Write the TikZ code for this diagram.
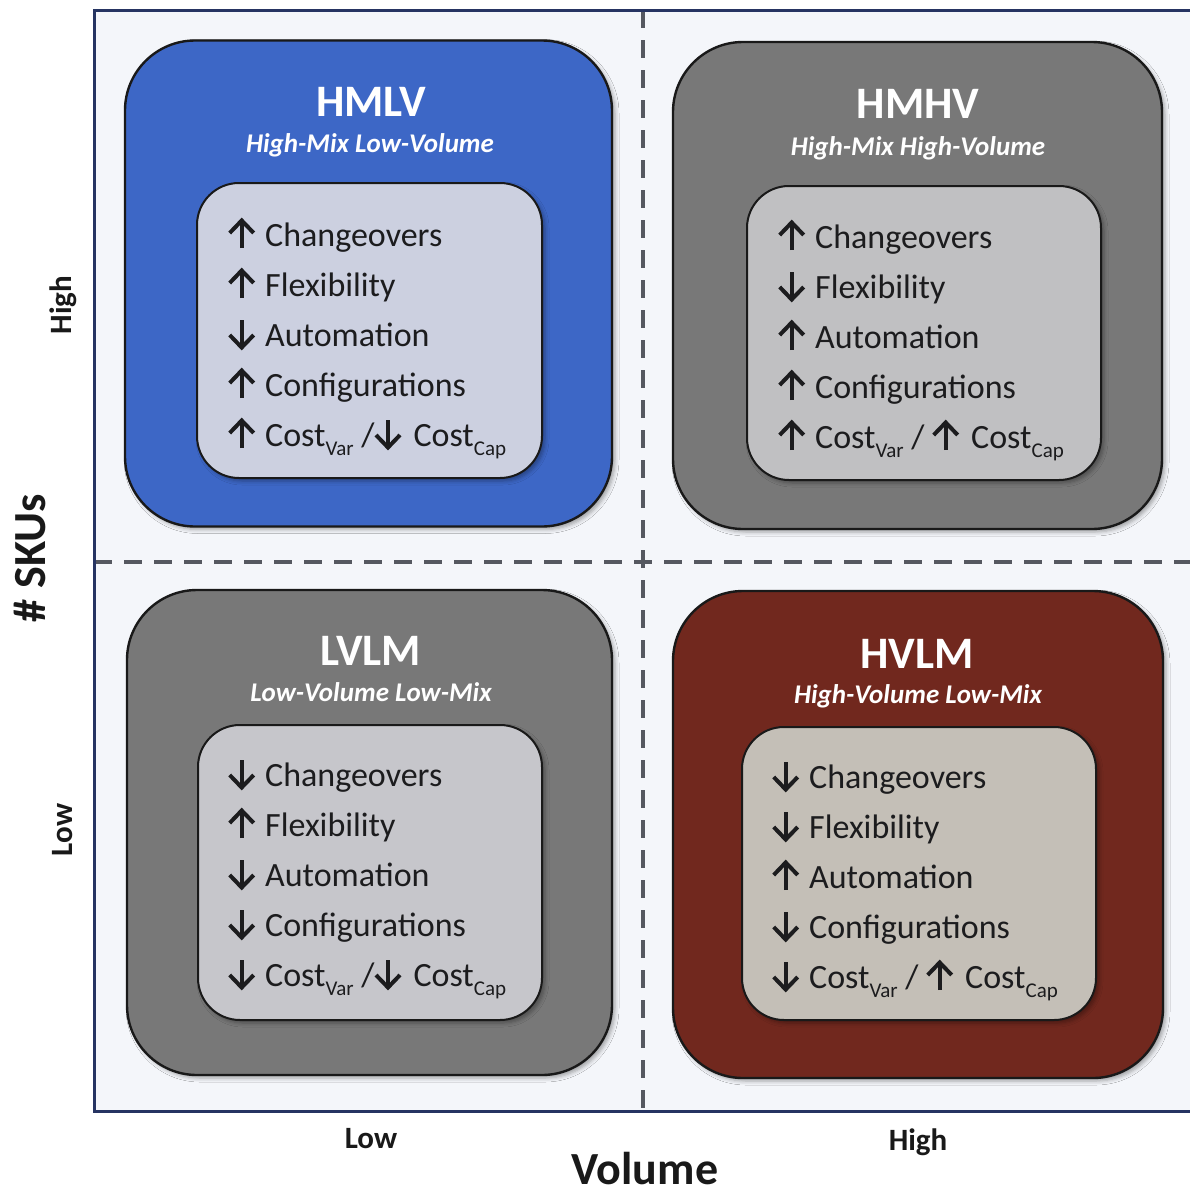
\documentclass[tikz,border=0pt]{standalone}
\usepackage{fontspec}
\setmainfont{Carlito}
\usetikzlibrary{shadows.blur}

\definecolor{framenavy}{RGB}{38,52,98}
\definecolor{plotbg}{RGB}{244,246,250}
\definecolor{dashgray}{RGB}{85,88,96}
\definecolor{hmlvblue}{RGB}{61,103,198}
\definecolor{hmlvinner}{RGB}{204,208,224}
\definecolor{grayouter}{RGB}{120,120,120}
\definecolor{hmhvinner}{RGB}{192,192,194}
\definecolor{lvlminner}{RGB}{198,198,203}
\definecolor{hvlmouter}{RGB}{113,40,30}
\definecolor{hvlminner}{RGB}{196,191,183}
\definecolor{listtext}{RGB}{28,28,30}

% bold open-headed arrows used in the item lists
\newcommand\arrUp{\tikz[baseline=0pt,x=1pt,y=1pt]{%
  \path[use as bounding box] (0,0) rectangle (27,26);
  \draw[listtext, line width=4pt] (13.5,-2) -- (13.5,25);
  \draw[listtext, line width=4pt, line join=miter] (1.5,13) -- (13.5,25.5) -- (25.5,13);}}
\newcommand\arrDn{\tikz[baseline=0pt,x=1pt,y=1pt]{%
  \path[use as bounding box] (0,0) rectangle (27,26);
  \draw[listtext, line width=4pt] (13.5,26) -- (13.5,-1);
  \draw[listtext, line width=4pt, line join=miter] (1.5,11) -- (13.5,-1.5) -- (25.5,11);}}
\newcommand\subtxt[1]{\raisebox{-9pt}{\fontsize{21}{21}\selectfont #1}}
\newcommand\itm[2]{#1\hspace{10pt}#2}

\begin{document}
\begin{tikzpicture}[x=1pt,y=-1pt]
\tikzset{
  outerbox/.style={draw=black!90, line width=2.4pt, rounded corners=70pt, inner sep=0pt,
    blur shadow={shadow xshift=3pt, shadow yshift=-3pt, shadow blur radius=4pt, shadow opacity=35}},
  innerbox/.style={draw=black!90, line width=2pt, rounded corners=42pt, inner sep=0pt,
    blur shadow={shadow xshift=3pt, shadow yshift=-3pt, shadow blur radius=4pt, shadow opacity=35}},
  titletext/.style={text=white, font=\fontsize{45}{45}\selectfont\bfseries, anchor=base, inner sep=0pt},
  subtext/.style={text=white, font=\fontsize{27}{27}\selectfont\bfseries\itshape, anchor=base, inner sep=0pt},
  itemtext/.style={text=listtext, font=\fontsize{34}{34}\selectfont, anchor=base west, inner sep=0pt},
  axislabel/.style={text=black!90, font=\fontsize{31}{31}\selectfont\bfseries, inner sep=0pt},
  axistitle/.style={text=black!90, font=\fontsize{46}{46}\selectfont\bfseries, inner sep=0pt},
  divider/.style={dashgray, line width=3.5pt, dash pattern=on 18pt off 12pt},
}

% page and plot area
\fill[white] (0,0) rectangle (1190,1197);
\path[use as bounding box] (0,0) rectangle (1190,1197);
\fill[plotbg] (94,10) rectangle (1190,1111);

% quadrant dividers
\draw[divider] (643,10) -- (643,1111);
\draw[divider] (94,562) -- (1190,562);

% plot frame (open on the right)
\draw[framenavy, line width=3pt] (1190,10) -| (94,1111) -- (1190,1111);

% ---- HMLV (top left)
\node[outerbox, fill=hmlvblue, minimum width=487pt, minimum height=486pt] (hmlv) at (368.5,283.5) {};
\node[innerbox, fill=hmlvinner, minimum width=345pt, minimum height=295pt] (hmlvin) at (369.5,330.5) {};
\node[titletext] (hmlvt) at (371,116) {HMLV};
\node[subtext] (hmlvs) at (370,152) {High-Mix Low-Volume};
\foreach \t [count=\i] in {
  {\itm{\arrUp}{Changeovers}},
  {\itm{\arrUp}{Flexibility}},
  {\itm{\arrDn}{Automation}},
  {\itm{\arrUp}{Configurations}},
  {\itm{\arrUp}{Cost\subtxt{Var} /\arrDn\hspace{12pt}Cost\subtxt{Cap}}}}
  \node[itemtext] (hmlv-\i) at (228,{246+50*(\i-1)}) {\t};

% ---- HMHV (top right)
\node[outerbox, fill=grayouter, minimum width=489pt, minimum height=487pt] (hmhv) at (917.5,285.5) {};
\node[innerbox, fill=hmhvinner, minimum width=354pt, minimum height=294pt] (hmhvin) at (924,333) {};
\node[titletext] (hmhvt) at (918,118) {HMHV};
\node[subtext] (hmhvs) at (918,155) {High-Mix High-Volume};
\foreach \t [count=\i] in {
  {\itm{\arrUp}{Changeovers}},
  {\itm{\arrDn}{Flexibility}},
  {\itm{\arrUp}{Automation}},
  {\itm{\arrUp}{Configurations}},
  {\itm{\arrUp}{Cost\subtxt{Var} / \arrUp\hspace{12pt}Cost\subtxt{Cap}}}}
  \node[itemtext] (hmhv-\i) at (778,{248+50*(\i-1)}) {\t};

% ---- LVLM (bottom left)
\node[outerbox, fill=grayouter, minimum width=485pt, minimum height=485pt] (lvlm) at (369.5,832.5) {};
\node[innerbox, fill=lvlminner, minimum width=344pt, minimum height=295pt] (lvlmin) at (370,872.5) {};
\node[titletext] (lvlmt) at (371,665) {LVLM};
\node[subtext] (lvlms) at (371,701) {Low-Volume Low-Mix};
\foreach \t [count=\i] in {
  {\itm{\arrDn}{Changeovers}},
  {\itm{\arrUp}{Flexibility}},
  {\itm{\arrDn}{Automation}},
  {\itm{\arrDn}{Configurations}},
  {\itm{\arrDn}{Cost\subtxt{Var} /\arrDn\hspace{12pt}Cost\subtxt{Cap}}}}
  \node[itemtext] (lvlm-\i) at (228,{786+50*(\i-1)}) {\t};

% ---- HVLM (bottom right)
\node[outerbox, fill=hvlmouter, minimum width=490pt, minimum height=487pt] (hvlm) at (918,834.5) {};
\node[innerbox, fill=hvlminner, minimum width=354pt, minimum height=293pt] (hvlmin) at (919,873.5) {};
\node[titletext] (hvlmt) at (917,668) {HVLM};
\node[subtext] (hvlms) at (918,703) {High-Volume Low-Mix};
\foreach \t [count=\i] in {
  {\itm{\arrDn}{Changeovers}},
  {\itm{\arrDn}{Flexibility}},
  {\itm{\arrUp}{Automation}},
  {\itm{\arrDn}{Configurations}},
  {\itm{\arrDn}{Cost\subtxt{Var} / \arrUp\hspace{12pt}Cost\subtxt{Cap}}}}
  \node[itemtext] (hvlm-\i) at (772,{788+50*(\i-1)}) {\t};

% ---- axes
\node[axislabel, rotate=90] (yhigh) at (63,305) {High};
\node[axislabel, rotate=90] (ylow) at (63,830) {Low};
\node[axistitle, rotate=90] (ytitle) at (30,558) {\# SKUs};
\node[axislabel, anchor=base] (xlow) at (371,1148) {Low};
\node[axislabel, anchor=base] (xhigh) at (918,1150) {High};
\node[axistitle, anchor=base] (xtitle) at (645,1184) {Volume};
\end{tikzpicture}
\end{document}
